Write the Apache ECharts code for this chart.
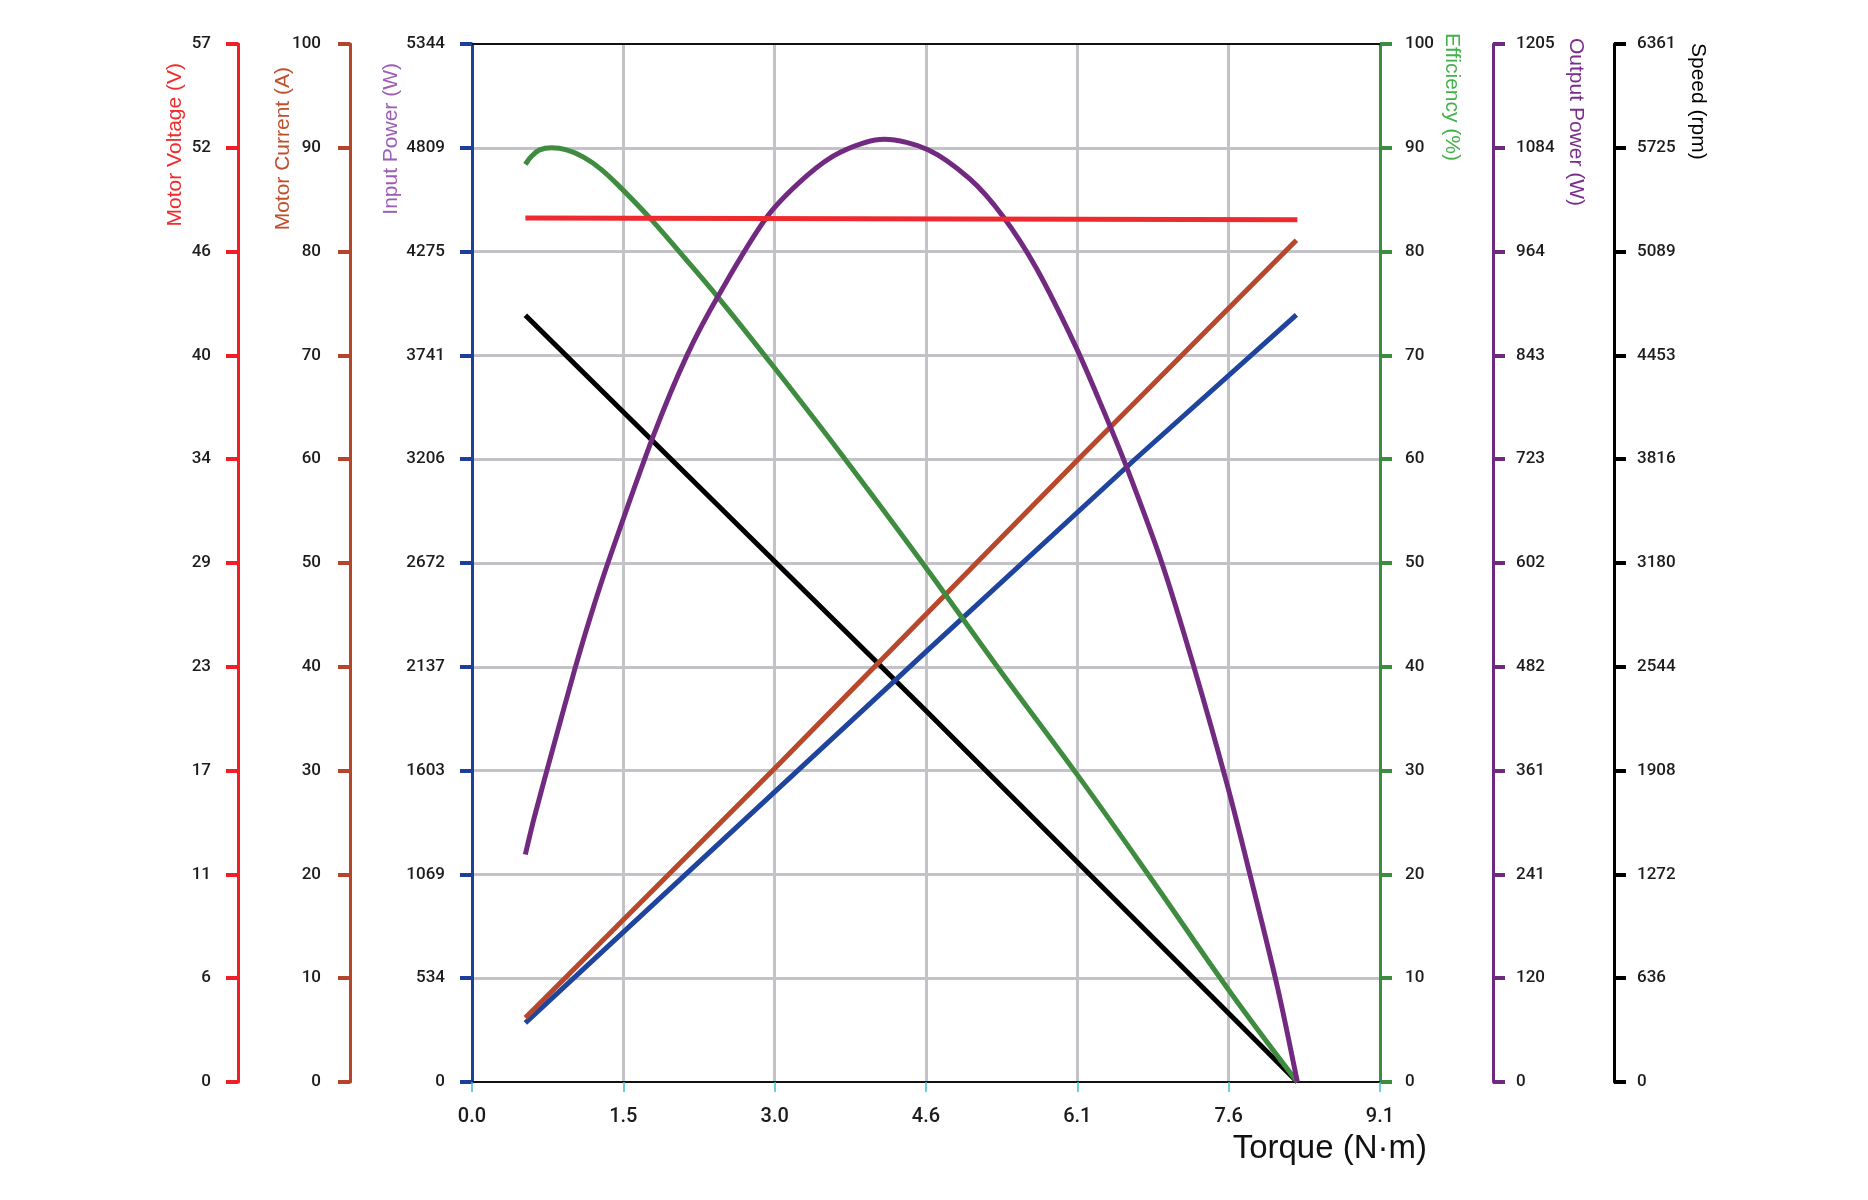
<!DOCTYPE html>
<html>
<head>
<meta charset="utf-8">
<script src="https://cdn.jsdelivr.net/npm/echarts@6/dist/echarts.min.js"></script>
<style>html,body{margin:0;padding:0;background:#fff}#c{width:1868px;height:1200px}</style>
</head>
<body>
<div id="c"></div>
<script>
// ---- tick labels ----
const torqueLabels = ['0.0','1.5','3.0','4.6','6.1','7.6','9.1'];
const voltLabels = ['0','6','11','17','23','29','34','40','46','52','57'];
const currLabels = ['0','10','20','30','40','50','60','70','80','90','100'];
const inPowLabels = ['0','534','1069','1603','2137','2672','3206','3741','4275','4809','5344'];
const effLabels = ['0','10','20','30','40','50','60','70','80','90','100'];
const outPowLabels = ['0','120','241','361','482','602','723','843','964','1084','1205'];
const speedLabels = ['0','636','1272','1908','2544','3180','3816','4453','5089','5725','6361'];

// ---- axis ranges ----
const torqueMax = 9.12;
const voltMax = 57.3;
const currMax = 100;
const inPowMax = 5343.7;
const effMax = 100;
const outPowMax = 1204.6;
const speedMax = 6360.75;

// ---- series values (torque N·m -> value) ----
const voltTorque = [0.536, 8.29];
const voltValues = [47.7, 47.6];

const currTorque = [0.536, 3.03, 6.09, 8.28];
const currValues = [6.2, 30.1, 60.0, 81.1];

const inPowTorque = [0.536, 4.58, 6.66, 8.28];
const inPowValues = [304, 2225, 3206, 3949];

const speedTorque = [0.536, 4.56, 8.29];
const speedValues = [4699, 2275, 0];

const effTorque = [0.536, 0.60, 0.68, 0.80, 0.95, 1.12, 1.30, 1.52, 1.79, 2.09, 2.48, 3.03, 3.70, 4.51, 5.30, 6.11, 6.85, 7.62, 8.29];
const effValues = [88.4, 89.2, 89.8, 90.0, 89.8, 89.1, 87.9, 85.9, 83.2, 79.9, 75.5, 68.9, 60.6, 50.2, 39.7, 29.2, 19.2, 8.6, 0];

const outPowTorque = [0.536, 0.63, 0.815, 1.03, 1.184, 1.37, 1.822, 2.158, 2.477, 2.964, 3.367, 3.70, 4.14, 4.58, 5.0, 5.33, 5.67, 6.07, 6.34, 6.58, 6.93, 7.25, 7.585, 7.82, 8.09, 8.29];
const outPowValues = [264, 309, 388, 478, 538, 604, 750, 843, 913, 1004, 1052, 1079, 1094, 1082, 1048, 1005, 944, 852, 780, 712, 602, 482, 345, 238, 110, 0];

function pairs(xs, ys) { return xs.map((x, i) => [x, ys[i]]); }

const labelFont = { color: '#1c1c1c', fontFamily: 'Roboto', fontWeight: 500, fontSize: 17 };

function yAx(position, offset, color, max, labels, split, margin) {
  const iv = max / 10;
  return {
    type: 'value', position, offset, min: 0, max, interval: iv,
    axisLine: { show: true, onZero: false, lineStyle: { color, width: 3 } },
    axisTick: { show: true, length: 12, lineStyle: { color, width: 4 } },
    axisLabel: Object.assign({ margin, formatter: v => labels[Math.round(v / iv)] ?? '' }, labelFont),
    splitLine: { show: split, showMinLine: false, showMaxLine: false, lineStyle: { color: '#c3c3c7', width: 3 } }
  };
}

const chart = echarts.init(document.getElementById('c'), null, { renderer: 'canvas' });
const nameFont = '21px "Liberation Sans", Arial, sans-serif';
chart.setOption({
  animation: false,
  backgroundColor: '#fff',
  grid: { left: 472, right: 488, top: 44, bottom: 118, containLabel: false },
  xAxis: [
    {
      type: 'value', position: 'bottom', min: 0, max: torqueMax, interval: torqueMax / 6,
      name: 'Torque (N·m)', nameLocation: 'end', nameGap: 47,
      nameTextStyle: { align: 'right', verticalAlign: 'top', padding: [50, 0, 0, 0], fontSize: 33, color: '#111', fontFamily: '"Liberation Sans", Arial, sans-serif' },
      axisLine: { show: true, onZero: false, lineStyle: { color: '#111', width: 2 } },
      axisTick: { show: true, length: 10, lineStyle: { color: '#3bbfcf', width: 1.5 } },
      axisLabel: { margin: 25, color: '#1c1c1c', fontFamily: 'Roboto', fontWeight: 500, fontSize: 20,
        formatter: v => torqueLabels[Math.round(v / (torqueMax / 6))] ?? '' },
      splitLine: { show: true, showMinLine: false, showMaxLine: false, lineStyle: { color: '#c3c3c7', width: 3 } }
    },
    {
      type: 'value', position: 'top', min: 0, max: torqueMax,
      axisLine: { show: true, onZero: false, lineStyle: { color: '#111', width: 2 } },
      axisTick: { show: false }, axisLabel: { show: false }, splitLine: { show: false }
    }
  ],
  yAxis: [
    yAx('left', 0, '#1c3f9c', inPowMax, inPowLabels, true, 27),
    yAx('left', 122, '#b4452b', currMax, currLabels, false, 29),
    yAx('left', 234, '#ee2025', voltMax, voltLabels, false, 27),
    yAx('right', 0, '#3a8c3e', effMax, effLabels, false, 25),
    yAx('right', 113, '#6e2a7e', outPowMax, outPowLabels, false, 23),
    yAx('right', 234, '#000000', speedMax, speedLabels, false, 23)
  ],
  series: [
    { name: 'Speed', type: 'line', yAxisIndex: 5, data: pairs(speedTorque, speedValues), showSymbol: false, lineStyle: { color: '#000', width: 5 } },
    { name: 'Input Power', type: 'line', yAxisIndex: 0, data: pairs(inPowTorque, inPowValues), showSymbol: false, lineStyle: { color: '#1f449e', width: 5 } },
    { name: 'Motor Current', type: 'line', yAxisIndex: 1, data: pairs(currTorque, currValues), showSymbol: false, lineStyle: { color: '#b8472c', width: 5 } },
    { name: 'Efficiency', type: 'line', yAxisIndex: 3, data: pairs(effTorque, effValues), showSymbol: false, smooth: 0.4, lineStyle: { color: '#3f8c40', width: 5 } },
    { name: 'Output Power', type: 'line', yAxisIndex: 4, data: pairs(outPowTorque, outPowValues), showSymbol: false, smooth: 0.3, lineStyle: { color: '#722a80', width: 5 } },
    { name: 'Motor Voltage', type: 'line', yAxisIndex: 2, data: pairs(voltTorque, voltValues), showSymbol: false, lineStyle: { color: '#ee2a2e', width: 5 } }
  ],
  graphic: [
    { type: 'text', x: 175, y: 63, rotation: Math.PI / 2, style: { text: 'Motor Voltage (V)', fill: '#f02c2c', font: nameFont, align: 'right', verticalAlign: 'middle' } },
    { type: 'text', x: 283, y: 67, rotation: Math.PI / 2, style: { text: 'Motor Current (A)', fill: '#c0502d', font: nameFont, align: 'right', verticalAlign: 'middle' } },
    { type: 'text', x: 391, y: 63, rotation: Math.PI / 2, style: { text: 'Input Power (W)', fill: '#9d5cb5', font: nameFont, align: 'right', verticalAlign: 'middle' } },
    { type: 'text', x: 1452, y: 33, rotation: -Math.PI / 2, style: { text: 'Efficiency (%)', fill: '#44b04a', font: nameFont, align: 'left', verticalAlign: 'middle' } },
    { type: 'text', x: 1576, y: 38, rotation: -Math.PI / 2, style: { text: 'Output Power (W)', fill: '#7b2d8e', font: nameFont, align: 'left', verticalAlign: 'middle' } },
    { type: 'text', x: 1698, y: 43, rotation: -Math.PI / 2, style: { text: 'Speed (rpm)', fill: '#000', font: nameFont, align: 'left', verticalAlign: 'middle' } }
  ]
});
</script>
</body>
</html>
